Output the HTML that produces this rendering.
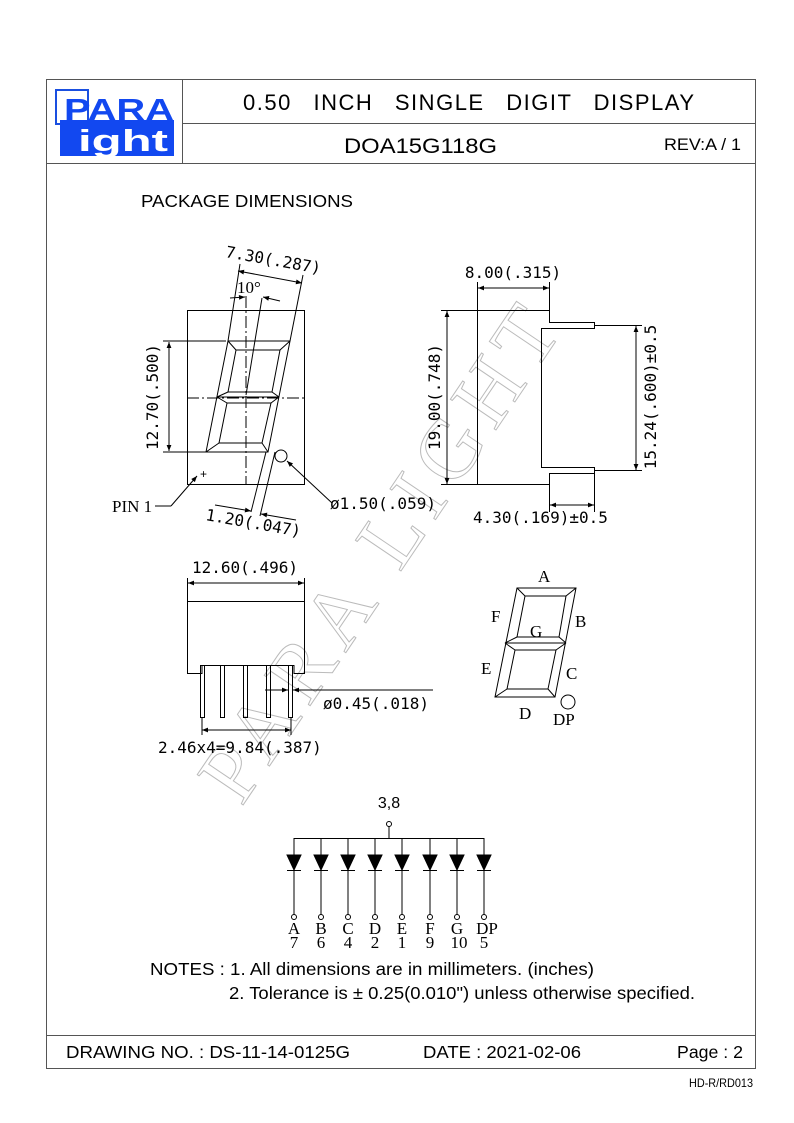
<!DOCTYPE html>
<html><head><meta charset="utf-8"><style>
html,body{margin:0;padding:0;background:#fff}
svg{display:block}
.s{font-family:"Liberation Sans",sans-serif;fill:#000}
.d{font-family:"DejaVu Sans Mono","Liberation Mono",monospace;fill:#000;font-size:16px}
.r{font-family:"Liberation Serif",serif;fill:#000;font-size:17px}
</style></head><body>
<svg width="794" height="1123" viewBox="0 0 794 1123" xmlns="http://www.w3.org/2000/svg">
<defs>
<marker id="a" viewBox="0 0 10 10" refX="10" refY="5" markerWidth="10" markerHeight="6" orient="auto-start-reverse" markerUnits="userSpaceOnUse"><path d="M0,1L10,5L0,9z" fill="#000"/></marker>
</defs>
<g fill="none" stroke="#555" stroke-width="1">
<rect x="46.5" y="79.5" width="709" height="989"/>
<line x1="46" y1="163.5" x2="755" y2="163.5"/>
<line x1="182.5" y1="79" x2="182.5" y2="163"/>
<line x1="182" y1="123.5" x2="755" y2="123.5"/>
<line x1="46" y1="1035.5" x2="755" y2="1035.5"/>
</g>
<!-- logo -->
<rect x="56" y="90" width="32" height="34" fill="#fff" stroke="#1a4fe0" stroke-width="2"/>
<rect x="60" y="120" width="114" height="36" fill="#1248f0"/>
<text x="64" y="120" class="s" font-size="31" font-weight="bold" style="fill:#1248f0" textLength="110" lengthAdjust="spacingAndGlyphs">PARA</text>
<text x="78" y="151" class="s" font-size="31" font-weight="bold" style="fill:#fff" textLength="90" lengthAdjust="spacingAndGlyphs">ight</text>
<!-- header -->
<text x="243" y="110" class="s" font-size="22" textLength="451" word-spacing="14">0.50 INCH SINGLE DIGIT DISPLAY</text>
<text x="344" y="153" class="s" font-size="21" textLength="153" lengthAdjust="spacingAndGlyphs">DOA15G118G</text>
<text x="664" y="150" class="s" font-size="17" textLength="77" lengthAdjust="spacingAndGlyphs">REV:A / 1</text>
<text x="141" y="207" class="s" font-size="17.5" textLength="212" lengthAdjust="spacingAndGlyphs">PACKAGE DIMENSIONS</text>
<!-- watermark -->
<text x="0" y="0" transform="translate(405,565) rotate(-56)" text-anchor="middle" font-family="Liberation Serif,serif" font-size="84" fill="none" stroke="#bbb" stroke-width="1" letter-spacing="10">PARA LIGHT</text>
<!-- front view -->
<g fill="none" stroke="#000" stroke-width="1">
<rect x="187.5" y="310.5" width="117" height="174"/>
<line x1="187" y1="398" x2="304" y2="398" stroke-dasharray="12,3,2,3"/>
<line x1="246" y1="296" x2="246" y2="484" stroke-dasharray="12,3,2,3"/>
<path d="M228,341L290,341L268,452L206,452Z"/>
<path d="M236,350L280,350L272,392L228,392Z"/>
<path d="M227,403L271,403L262,443L219,443Z"/>
<path d="M228,341L236,350M290,341L280,350M268,452L262,443M206,452L219,443M217,397L228,392M217,397L227,403M279,397L272,392M279,397L271,403M217,397L279,397"/>
<circle cx="281" cy="456" r="6"/>
<line x1="163" y1="341" x2="226" y2="341"/><line x1="163" y1="452" x2="206" y2="452"/>
<line x1="169" y1="342" x2="169" y2="451" marker-start="url(#a)" marker-end="url(#a)"/>
<line x1="228" y1="341" x2="240" y2="264"/><line x1="290" y1="341" x2="303" y2="275"/>
<line x1="238" y1="271" x2="302" y2="283" marker-start="url(#a)" marker-end="url(#a)"/>
<line x1="262" y1="298" x2="246" y2="395"/>
<line x1="230" y1="298" x2="245" y2="297" marker-end="url(#a)"/>
<line x1="280" y1="301" x2="263" y2="297" marker-end="url(#a)"/>
<line x1="266" y1="452" x2="251" y2="512"/><line x1="275" y1="452" x2="260" y2="516"/>
<line x1="215" y1="505" x2="251" y2="511" marker-end="url(#a)"/>
<line x1="296" y1="520" x2="261" y2="514" marker-end="url(#a)"/>
<line x1="155" y1="506" x2="171" y2="506"/><line x1="171" y1="506" x2="197" y2="476" marker-end="url(#a)"/>
<line x1="332" y1="503" x2="287" y2="461" marker-end="url(#a)"/>
</g>
<text x="200" y="478" font-size="12" class="s">+</text>
<text x="112" y="512" class="r">PIN 1</text>
<text x="330" y="509" class="d">ø1.50(.059)</text>
<text class="d" transform="translate(225,257) rotate(10)">7.30(.287)</text>
<text x="237" y="293" class="r" font-size="15">10°</text>
<text class="d" transform="translate(205,520) rotate(10)">1.20(.047)</text>
<text class="d" transform="translate(158,397) rotate(-90)" text-anchor="middle">12.70(.500)</text>
<!-- side view -->
<g fill="none" stroke="#000" stroke-width="1">
<path d="M477.5,310.5H549.5V322.5H594.5V328.5H541.5V467.5H594.5V473.5H549.5V484.5H477.5Z"/>
<line x1="441" y1="310.5" x2="477" y2="310.5"/><line x1="441" y1="484.5" x2="477" y2="484.5"/>
<line x1="447" y1="311" x2="447" y2="484" marker-start="url(#a)" marker-end="url(#a)"/>
<line x1="477.5" y1="282" x2="477.5" y2="310"/><line x1="549.5" y1="282" x2="549.5" y2="310"/>
<line x1="478" y1="288" x2="549" y2="288" marker-start="url(#a)" marker-end="url(#a)"/>
<line x1="594" y1="325.5" x2="642" y2="325.5"/><line x1="594" y1="470.5" x2="642" y2="470.5"/>
<line x1="636" y1="326" x2="636" y2="470" marker-start="url(#a)" marker-end="url(#a)"/>
<line x1="549.5" y1="484" x2="549.5" y2="512"/><line x1="594.5" y1="473" x2="594.5" y2="512"/>
<line x1="550" y1="505" x2="594" y2="505" marker-start="url(#a)" marker-end="url(#a)"/>
</g>
<text x="513" y="278" class="d" text-anchor="middle">8.00(.315)</text>
<text class="d" transform="translate(440,397) rotate(-90)" text-anchor="middle">19.00(.748)</text>
<text class="d" transform="translate(656,397) rotate(-90)" text-anchor="middle">15.24(.600)±0.5</text>
<text x="473" y="523" class="d">4.30(.169)±0.5</text>
<!-- bottom view -->
<g fill="none" stroke="#000" stroke-width="1">
<path d="M187.5,601.5H304.5V673.5H294V665.5H202V673.5H187.5Z"/>
<rect x="200.5" y="665.5" width="4" height="52"/>
<rect x="220.5" y="665.5" width="4" height="52"/>
<rect x="243.5" y="665.5" width="4" height="52"/>
<rect x="266.5" y="665.5" width="4" height="52"/>
<rect x="288.5" y="665.5" width="4" height="52"/>
<line x1="187.5" y1="578" x2="187.5" y2="601"/><line x1="304.5" y1="578" x2="304.5" y2="601"/>
<line x1="188" y1="583" x2="304" y2="583" marker-start="url(#a)" marker-end="url(#a)"/>
<line x1="202" y1="718" x2="202" y2="735"/><line x1="291" y1="718" x2="291" y2="735"/>
<line x1="202" y1="730" x2="291" y2="730" marker-start="url(#a)" marker-end="url(#a)"/>
<line x1="265" y1="690" x2="288" y2="690" marker-end="url(#a)"/>
<line x1="433" y1="690" x2="293" y2="690" marker-end="url(#a)"/>
</g>
<text x="245" y="573" class="d" text-anchor="middle">12.60(.496)</text>
<text x="323" y="709" class="d">ø0.45(.018)</text>
<text x="158" y="753" class="d">2.46x4=9.84(.387)</text>
<!-- segment diagram -->
<g fill="none" stroke="#000" stroke-width="1">
<path d="M517,588L576,588L555,697L495,697Z"/>
<path d="M525,596L566,596L559,637L517,637Z"/>
<path d="M515,650L556,650L548,689L507,689Z"/>
<path d="M517,588L525,596M576,588L566,596M555,697L548,689M495,697L507,689M505,643L517,637M505,643L515,650M566,643L559,637M566,643L556,650M505,643L566,643"/>
<circle cx="568" cy="702" r="7"/>
</g>
<g class="r" font-size="16">
<text x="538" y="582">A</text><text x="575" y="627">B</text><text x="566" y="679">C</text>
<text x="519" y="719">D</text><text x="481" y="674">E</text><text x="491" y="622">F</text>
<text x="530" y="637">G</text><text x="553" y="725">DP</text>
</g>
<!-- schematic -->
<text x="389" y="808" class="s" font-size="16" text-anchor="middle">3,8</text>
<g fill="none" stroke="#000" stroke-width="1">
<circle cx="389" cy="824" r="2.5"/>
<line x1="389" y1="826.5" x2="389" y2="838"/>
<line x1="293.5" y1="838.5" x2="484.5" y2="838.5"/>
</g>
<g stroke="#000" stroke-width="1">
<line x1="294" y1="838" x2="294" y2="915"/><line x1="321" y1="838" x2="321" y2="915"/><line x1="348" y1="838" x2="348" y2="915"/><line x1="375" y1="838" x2="375" y2="915"/><line x1="402" y1="838" x2="402" y2="915"/><line x1="430" y1="838" x2="430" y2="915"/><line x1="457" y1="838" x2="457" y2="915"/><line x1="484" y1="838" x2="484" y2="915"/>
<path d="M287,855H301L294,870Z M314,855H328L321,870Z M341,855H355L348,870Z M368,855H382L375,870Z M395,855H409L402,870Z M423,855H437L430,870Z M450,855H464L457,870Z M477,855H491L484,870Z" fill="#000"/>
<path d="M287,870.5H301M314,870.5H328M341,870.5H355M368,870.5H382M395,870.5H409M423,870.5H437M450,870.5H464M477,870.5H491" fill="none"/>
</g>
<g fill="#fff" stroke="#000">
<circle cx="294" cy="917" r="2.5"/><circle cx="321" cy="917" r="2.5"/><circle cx="348" cy="917" r="2.5"/><circle cx="375" cy="917" r="2.5"/><circle cx="402" cy="917" r="2.5"/><circle cx="430" cy="917" r="2.5"/><circle cx="457" cy="917" r="2.5"/><circle cx="484" cy="917" r="2.5"/>
</g>
<g class="r" font-size="16" text-anchor="middle">
<text x="294" y="934">A</text><text x="321" y="934">B</text><text x="348" y="934">C</text><text x="375" y="934">D</text><text x="402" y="934">E</text><text x="430" y="934">F</text><text x="457" y="934">G</text><text x="487" y="934">DP</text>
<text x="294" y="948">7</text><text x="321" y="948">6</text><text x="348" y="948">4</text><text x="375" y="948">2</text><text x="402" y="948">1</text><text x="430" y="948">9</text><text x="459" y="948">10</text><text x="484" y="948">5</text>
</g>
<text x="150" y="975" class="s" font-size="17.5" textLength="444" lengthAdjust="spacingAndGlyphs">NOTES : 1. All dimensions are in millimeters. (inches)</text>
<text x="229" y="999" class="s" font-size="17.5" textLength="466" lengthAdjust="spacingAndGlyphs">2. Tolerance is ± 0.25(0.010") unless otherwise specified.</text>
<text x="66" y="1058" class="s" font-size="17.5" textLength="284" lengthAdjust="spacingAndGlyphs">DRAWING NO. : DS-11-14-0125G</text>
<text x="423" y="1058" class="s" font-size="17.5" textLength="158" lengthAdjust="spacingAndGlyphs">DATE : 2021-02-06</text>
<text x="677" y="1058" class="s" font-size="17.5" textLength="66" lengthAdjust="spacingAndGlyphs">Page : 2</text>
<text x="689" y="1087" class="s" font-size="12" textLength="64" lengthAdjust="spacingAndGlyphs">HD-R/RD013</text>
</svg>
</body></html>
